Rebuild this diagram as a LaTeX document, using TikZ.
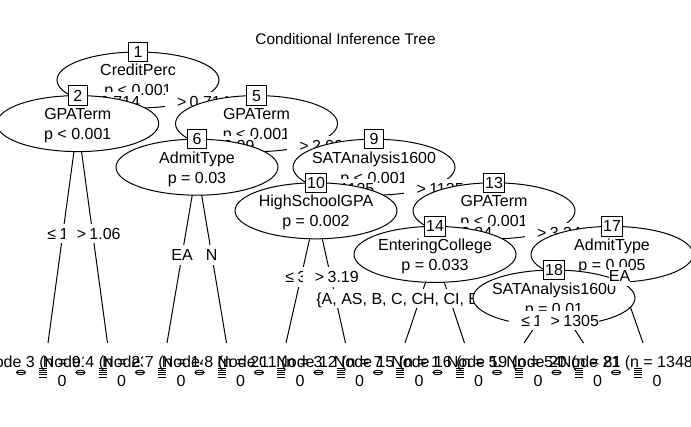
\documentclass[tikz,border=0pt]{standalone}
\usepackage{fontspec}
\setmainfont{Liberation Sans}
\usetikzlibrary{shapes.geometric}
\newcommand{\nfont}{\fontsize{12}{14.4}\selectfont}
\newcommand{\ctfont}{\fontsize{11.5}{13.8}\selectfont}
\newcommand{\lspc}{\hspace{2.5pt}}
\newcommand{\splitle}[1]{\phantom{0}\lspc≤\lspc#1}
\newcommand{\splitgt}[1]{\phantom{0}\lspc>\lspc#1}
\tikzset{
  conn/.style={line width=0.75pt},
  inell/.style={ellipse, draw, line width=0.75pt, fill=white, minimum width=121.5pt, minimum height=42pt, inner sep=0pt},
  idbox/.style={rectangle, draw, line width=0.75pt, fill=white, minimum width=14.5pt, minimum height=14.5pt, inner sep=1.5pt, font=\nfont},
  intext/.style={inner sep=0pt, font=\nfont, anchor=base},
  elab/.style={fill=white, inner xsep=0pt, inner ysep=0pt, minimum height=14.4pt, text height=8.6pt, text depth=0pt, font=\nfont},
  ttext/.style={inner sep=0pt, font=\nfont, anchor=base},
  glyph/.style={line width=0.7pt},
}
\newcommand{\innode}[3]{%
  \node[inell] (n#1) at (c#1) {};
  \node[idbox] (b#1) at ([yshift=21pt]c#1) {#1};
  \node[intext] (v#1) at ([yshift=3pt]c#1) {#2};
  \node[intext] (p#1) at ([yshift=-12pt]c#1) {#3};
}
\newcommand{\termnode}[3]{%
  \fill[white] ([xshift=-18pt, yshift=-5.25pt]t#1) rectangle ([xshift=18pt, yshift=-39pt]t#1);
  \node[ttext] (tl#1) at ([xshift={#2*0.75pt}, yshift=-18pt]t#1) {Node #1 (n = #3)};
  \draw[glyph] ([xshift=-20.25pt, yshift=-22.1pt]t#1) ellipse [x radius=3.4pt, y radius=1.7pt];
  \draw[glyph] ([xshift=-23.6pt, yshift=-22.1pt]t#1) -- ++(6.7pt,0pt);
  \foreach \kk in {0,...,4}{\draw[glyph] ([xshift=-6.75pt, yshift={-18.75pt-1.69pt*\kk}]t#1) -- ++(6pt,0pt);}
  \node[ttext] (z#1) at ([xshift=10.5pt, yshift=-32.25pt]t#1) {0};
}
\begin{document}
\begin{tikzpicture}[x=0.75pt, y=-0.75pt]
\useasboundingbox (0,0) rectangle (691,427);
\fill[white] (0,0) rectangle (691,427);
% inner node centres
\coordinate (c1) at (138,80);
\coordinate (c2) at (77.75,123.6);
\coordinate (c5) at (256.5,123.6);
\coordinate (c6) at (197,167.2);
\coordinate (c9) at (374,167.2);
\coordinate (c10) at (316,210.8);
\coordinate (c13) at (494,210.8);
\coordinate (c14) at (435,254.4);
\coordinate (c17) at (612,254.4);
\coordinate (c18) at (554,298);
% terminal tops
\coordinate (t3) at (48,343);
\coordinate (t4) at (107.5,343);
\coordinate (t7) at (167,343);
\coordinate (t8) at (226.5,343);
\coordinate (t11) at (286,343);
\coordinate (t12) at (345.5,343);
\coordinate (t15) at (405,343);
\coordinate (t16) at (464.5,343);
\coordinate (t19) at (524,343);
\coordinate (t20) at (583.5,343);
\coordinate (t21) at (643,343);

\node[font=\ctfont, inner sep=0pt, anchor=base] (title) at (345.5,45) {Conditional Inference Tree};

% node 1
\draw[conn] (c1) -- (c2);
\draw[conn] (c1) -- (c5);
\innode{1}{CreditPerc}{p < 0.001}
\node[elab] (l2) at (107.9,101.8) {\splitle{0.714}};
% node 2
\draw[conn] (c2) -- (t3);
\draw[conn] (c2) -- (t4);
\innode{2}{GPATerm}{p < 0.001}
\node[elab] (l3) at (62.9,233.3) {\splitle{1.06}};
\termnode{3}{0}{9152}
\node[elab] (l4) at (92.6,233.3) {\splitgt{1.06}};
\termnode{4}{0}{2316}
\node[elab] (l5) at (197.25,101.8) {\splitgt{0.714}};
% node 5
\draw[conn] (c5) -- (c6);
\draw[conn] (c5) -- (c9);
\innode{5}{GPATerm}{p < 0.001}
\node[elab] (l6) at (226.75,145.4) {\splitle{2.99}};
% node 6
\draw[conn] (c6) -- (t7);
\draw[conn] (c6) -- (t8);
\innode{6}{AdmitType}{p = 0.03}
\node[elab] (l7) at (182,255.1) {EA};
\termnode{7}{0}{1427}
\node[elab] (l8) at (211.75,255.1) {N};
\termnode{8}{0}{2085}
\node[elab] (l9) at (315.25,145.4) {\splitgt{2.99}};
% node 9
\draw[conn] (c9) -- (c10);
\draw[conn] (c9) -- (c13);
\innode{9}{SATAnalysis1600}{p < 0.001}
\node[elab] (l10) at (345,189) {\splitle{1125}};
% node 10
\draw[conn] (c10) -- (t11);
\draw[conn] (c10) -- (t12);
\innode{10}{HighSchoolGPA}{p = 0.002}
\node[elab] (l11) at (301,276.9) {\splitle{3.19}};
\termnode{11}{0}{3104}
\node[elab] (l12) at (330.75,276.9) {\splitgt{3.19}};
\termnode{12}{0}{7261}
\node[elab] (l13) at (434,189) {\splitgt{1125}};
% node 13
\draw[conn] (c13) -- (c14);
\draw[conn] (c13) -- (c17);
\innode{13}{GPATerm}{p < 0.001}
\node[elab] (l14) at (464.5,232.6) {\splitle{3.34}};
% node 14
\draw[conn] (c14) -- (t15);
\draw[conn] (c14) -- (t16);
\innode{14}{EnteringCollege}{p = 0.033}
\termnode{15}{-2}{1649}
\node[elab] (l16) at (449.75,298.7) {\{A, AS, B, C, CH, CI, EN, FA, IN, MU\}};
\termnode{16}{-4}{5213}
\node[elab] (l17) at (553,232.6) {\splitgt{3.34}};
% node 17
\draw[conn] (c17) -- (c18);
\draw[conn] (c17) -- (t21);
\innode{17}{AdmitType}{p = 0.005}
% node 18
\draw[conn] (c18) -- (t19);
\draw[conn] (c18) -- (t20);
\innode{18}{SATAnalysis1600}{p = 0.01}
\node[elab] (l19) at (539,320.5) {\splitle{1305}};
\termnode{19}{-8}{5472}
\node[elab] (l20) at (568.75,320.5) {\splitgt{1305}};
\termnode{20}{-8}{8190}
\node[elab] (l21) at (619.6,276.2) {EA};
\termnode{21}{-14}{1348}
\end{tikzpicture}
\end{document}
